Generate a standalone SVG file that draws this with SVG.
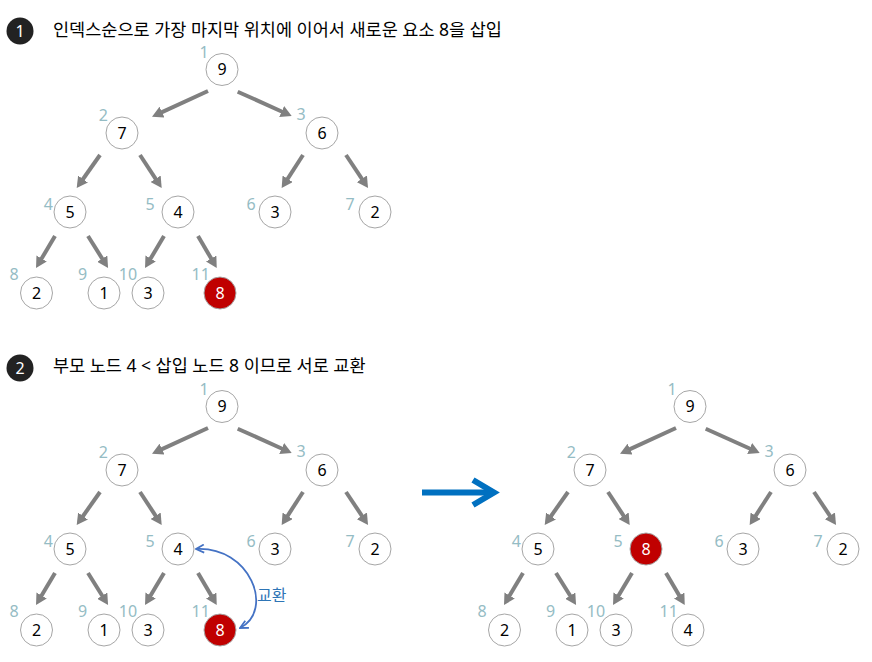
<svg xmlns="http://www.w3.org/2000/svg" xmlns:xlink="http://www.w3.org/1999/xlink" width="872" height="662" viewBox="0 0 872 662">
<style>
  text { font-family: "Noto Sans", "Noto Sans CJK KR", "Liberation Sans", sans-serif; }
  .title { font-size: 17.5px; fill: #000; }
  .badge { fill: #222; }
  .badgeT { font-size: 16px; fill: #fff; text-anchor: middle; }
  .node circle { fill: #fff; stroke: #a6a6a6; stroke-width: 1; }
  .node text.v { font-size: 16px; fill: #000; text-anchor: middle; }
  .node.hot circle { fill: #c00000; stroke: #a6a6a6; }
  .node.hot text.v { fill: #fff; }
  .idx { font-size: 16px; fill: #95bcc4; text-anchor: middle; }
  .edge { stroke: #808080; stroke-width: 4; fill: none; marker-end: url(#ah); }
  .swap { stroke: #4472c4; stroke-width: 1.8; fill: none; marker-start: url(#bh); marker-end: url(#bh); }
  .swapT { font-size: 16px; fill: #2e75b6; }
  .big { stroke: #0070c0; stroke-width: 6; fill: none; }
</style>
<defs>
  <marker id="ah" markerUnits="userSpaceOnUse" markerWidth="12" markerHeight="12" viewBox="0 0 12 12" refX="3" refY="6" orient="auto">
    <path d="M0,0 L11,6 L0,12 z" fill="#808080"/>
  </marker>
  <marker id="bh" markerUnits="userSpaceOnUse" markerWidth="10" markerHeight="10" viewBox="0 0 10 10" refX="9" refY="5" orient="auto-start-reverse">
    <path d="M1,1 L9,5 L1,9" fill="none" stroke="#4472c4" stroke-width="1.8"/>
  </marker>
  <g id="tree-edges">
    <line class="edge" x1="208" y1="91" x2="159.3" y2="113.4"/>
    <line class="edge" x1="237.7" y1="91.7" x2="284.4" y2="112.7"/>
    <line class="edge" x1="100" y1="155" x2="81.3" y2="181.5"/>
    <line class="edge" x1="140" y1="155" x2="157.3" y2="181.3"/>
    <line class="edge" x1="303" y1="155" x2="286" y2="181.3"/>
    <line class="edge" x1="346" y1="155" x2="363.6" y2="181.3"/>
    <line class="edge" x1="55" y1="236" x2="40.1" y2="261.1"/>
    <line class="edge" x1="88" y1="236" x2="103.8" y2="261.2"/>
    <line class="edge" x1="164" y1="236" x2="149.1" y2="261.1"/>
    <line class="edge" x1="198" y1="236" x2="212.7" y2="261.1"/>
  </g>
</defs>

<g id="step1-title">
  <circle class="badge" cx="20" cy="31" r="13.5"/>
  <text class="badgeT" x="20" y="36.5">1</text>
  <text class="title" x="53" y="35.5">인덱스순으로 가장 마지막 위치에 이어서 새로운 요소 8을 삽입</text>
</g>
<g id="step2-title">
  <circle class="badge" cx="20" cy="368" r="13.5"/>
  <text class="badgeT" x="20" y="373.5">2</text>
  <text class="title" x="53" y="371.5">부모 노드 4 &lt; 삽입 노드 8 이므로 서로 교환</text>
</g>

<g id="connectors">
  <use xlink:href="#tree-edges"/>
  <use xlink:href="#tree-edges" transform="translate(0,337)"/>
  <use xlink:href="#tree-edges" transform="translate(468,337)"/>
  <path class="swap" d="M196,549 C250,546 275,610 240,628"/>
  <line class="big" x1="422" y1="492.5" x2="491" y2="492.5"/>
  <polyline class="big" points="473,480 494,492.5 473,505"/>
</g>
<text class="swapT" x="257" y="601">교환</text>

<!-- Tree 1 -->
<g id="t1-n1" class="node" transform="translate(222,69.5)"><circle r="16"/><text class="v" y="5.5">9</text><text class="idx" x="-18" y="-11.5">1</text></g>
<g id="t1-n2" class="node" transform="translate(122,133)"><circle r="16"/><text class="v" y="5.5">7</text><text class="idx" x="-18.7" y="-12">2</text></g>
<g id="t1-n3" class="node" transform="translate(322,133)"><circle r="16"/><text class="v" y="5.5">6</text><text class="idx" x="-21" y="-13">3</text></g>
<g id="t1-n4" class="node" transform="translate(70,212)"><circle r="16"/><text class="v" y="5.5">5</text><text class="idx" x="-21.7" y="-2.5">4</text></g>
<g id="t1-n5" class="node" transform="translate(178,212)"><circle r="16"/><text class="v" y="5.5">4</text><text class="idx" x="-28" y="-2">5</text></g>
<g id="t1-n6" class="node" transform="translate(275,212)"><circle r="16"/><text class="v" y="5.5">3</text><text class="idx" x="-24" y="-2">6</text></g>
<g id="t1-n7" class="node" transform="translate(375,212)"><circle r="16"/><text class="v" y="5.5">2</text><text class="idx" x="-25" y="-2">7</text></g>
<g id="t1-n8" class="node" transform="translate(36.5,293)"><circle r="16"/><text class="v" y="5.5">2</text><text class="idx" x="-22.5" y="-13">8</text></g>
<g id="t1-n9" class="node" transform="translate(104,293)"><circle r="16"/><text class="v" y="5.5">1</text><text class="idx" x="-21.5" y="-13">9</text></g>
<g id="t1-n10" class="node" transform="translate(148,293)"><circle r="16"/><text class="v" y="5.5">3</text><text class="idx" x="-20" y="-13">10</text></g>
<g id="t1-n11" class="node hot" transform="translate(220,293)"><circle r="16"/><text class="v" y="5.5">8</text><text class="idx" x="-19.3" y="-13">11</text></g>

<!-- Tree 2 (left) -->
<g id="t2-n1" class="node" transform="translate(222,406.5)"><circle r="16"/><text class="v" y="5.5">9</text><text class="idx" x="-18" y="-11.5">1</text></g>
<g id="t2-n2" class="node" transform="translate(122,470)"><circle r="16"/><text class="v" y="5.5">7</text><text class="idx" x="-18.7" y="-12">2</text></g>
<g id="t2-n3" class="node" transform="translate(322,470)"><circle r="16"/><text class="v" y="5.5">6</text><text class="idx" x="-21" y="-13">3</text></g>
<g id="t2-n4" class="node" transform="translate(70,549)"><circle r="16"/><text class="v" y="5.5">5</text><text class="idx" x="-21.7" y="-2.5">4</text></g>
<g id="t2-n5" class="node" transform="translate(178,549)"><circle r="16"/><text class="v" y="5.5">4</text><text class="idx" x="-28" y="-2">5</text></g>
<g id="t2-n6" class="node" transform="translate(275,549)"><circle r="16"/><text class="v" y="5.5">3</text><text class="idx" x="-24" y="-2">6</text></g>
<g id="t2-n7" class="node" transform="translate(375,549)"><circle r="16"/><text class="v" y="5.5">2</text><text class="idx" x="-25" y="-2">7</text></g>
<g id="t2-n8" class="node" transform="translate(36.5,630)"><circle r="16"/><text class="v" y="5.5">2</text><text class="idx" x="-22.5" y="-13">8</text></g>
<g id="t2-n9" class="node" transform="translate(104,630)"><circle r="16"/><text class="v" y="5.5">1</text><text class="idx" x="-21.5" y="-13">9</text></g>
<g id="t2-n10" class="node" transform="translate(148,630)"><circle r="16"/><text class="v" y="5.5">3</text><text class="idx" x="-20" y="-13">10</text></g>
<g id="t2-n11" class="node hot" transform="translate(220,630)"><circle r="16"/><text class="v" y="5.5">8</text><text class="idx" x="-19.3" y="-13">11</text></g>

<!-- Tree 3 (right, after swap) -->
<g id="t3-n1" class="node" transform="translate(690,406.5)"><circle r="16"/><text class="v" y="5.5">9</text><text class="idx" x="-18" y="-11.5">1</text></g>
<g id="t3-n2" class="node" transform="translate(590,470)"><circle r="16"/><text class="v" y="5.5">7</text><text class="idx" x="-18.7" y="-12">2</text></g>
<g id="t3-n3" class="node" transform="translate(790,470)"><circle r="16"/><text class="v" y="5.5">6</text><text class="idx" x="-21" y="-13">3</text></g>
<g id="t3-n4" class="node" transform="translate(538,549)"><circle r="16"/><text class="v" y="5.5">5</text><text class="idx" x="-21.7" y="-2.5">4</text></g>
<g id="t3-n5" class="node hot" transform="translate(646,549)"><circle r="16"/><text class="v" y="5.5">8</text><text class="idx" x="-28" y="-2">5</text></g>
<g id="t3-n6" class="node" transform="translate(743,549)"><circle r="16"/><text class="v" y="5.5">3</text><text class="idx" x="-24" y="-2">6</text></g>
<g id="t3-n7" class="node" transform="translate(843,549)"><circle r="16"/><text class="v" y="5.5">2</text><text class="idx" x="-25" y="-2">7</text></g>
<g id="t3-n8" class="node" transform="translate(504.5,630)"><circle r="16"/><text class="v" y="5.5">2</text><text class="idx" x="-22.5" y="-13">8</text></g>
<g id="t3-n9" class="node" transform="translate(572,630)"><circle r="16"/><text class="v" y="5.5">1</text><text class="idx" x="-21.5" y="-13">9</text></g>
<g id="t3-n10" class="node" transform="translate(616,630)"><circle r="16"/><text class="v" y="5.5">3</text><text class="idx" x="-20" y="-13">10</text></g>
<g id="t3-n11" class="node" transform="translate(688,630)"><circle r="16"/><text class="v" y="5.5">4</text><text class="idx" x="-19.3" y="-13">11</text></g>
</svg>
